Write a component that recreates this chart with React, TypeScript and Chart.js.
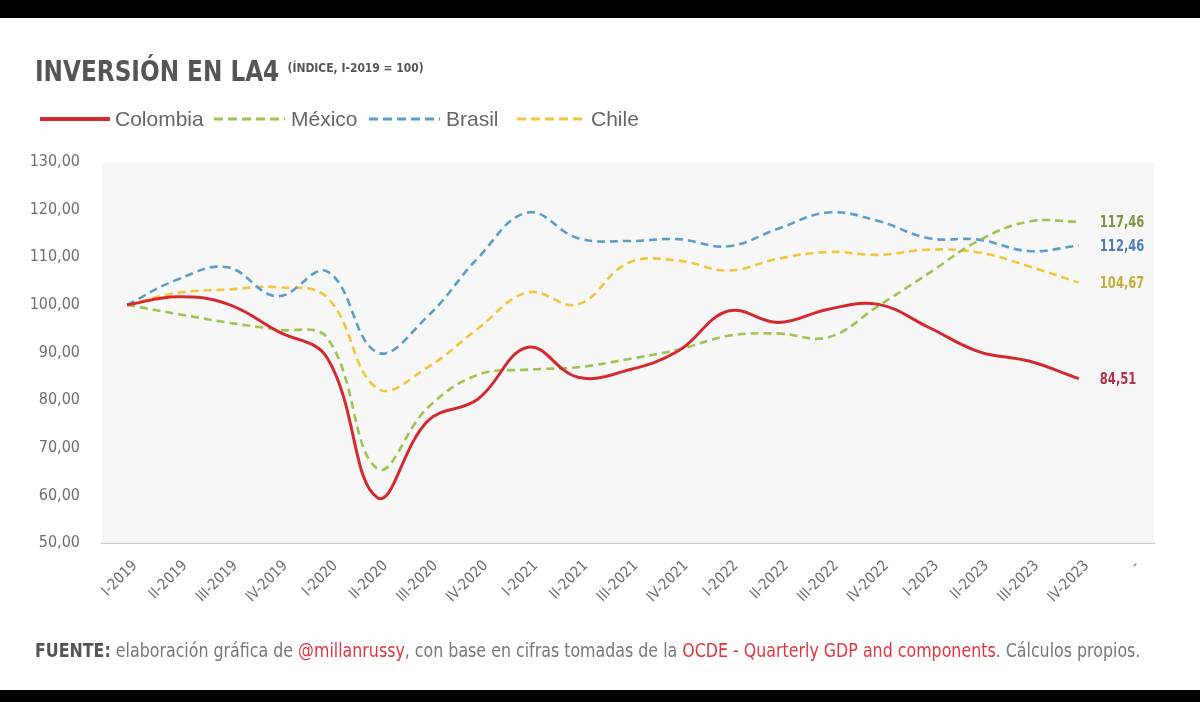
import React, { useEffect, useRef } from "react";
import { Chart, registerables } from "chart.js";

Chart.register(...registerables);

const NARROW = "'Liberation Sans Narrow', 'DejaVu Sans Condensed', 'Arial Narrow', sans-serif";
const SANS = "'Liberation Sans', Roboto, Arial, sans-serif";

const categories = [
  "I-2019", "II-2019", "III-2019", "IV-2019",
  "I-2020", "II-2020", "III-2020", "IV-2020",
  "I-2021", "II-2021", "III-2021", "IV-2021",
  "I-2022", "II-2022", "III-2022", "IV-2022",
  "I-2023", "II-2023", "III-2023", "IV-2023",
  "-",
];

const colombia = [100, 101.7, 100.2, 94.5, 88.8, 59.5, 75.6, 80.2, 91.1, 84.8, 86.3, 90.3, 98.7, 96.3, 99.1, 100.1, 95.3, 90.2, 88.2, 84.51];
const mexico = [100, 98.1, 96.3, 94.8, 93.0, 65.6, 78.4, 85.3, 86.4, 86.9, 88.6, 90.6, 93.5, 94.0, 93.2, 99.8, 106.6, 113.5, 117.5, 117.46];
const brasil = [100, 105.3, 107.9, 101.8, 107.0, 90.0, 97.6, 109.8, 119.4, 114.0, 113.4, 113.8, 112.3, 116.0, 119.4, 117.6, 114.0, 113.7, 111.3, 112.46];
const chile = [100, 102.5, 103.2, 103.7, 101.5, 82.4, 86.9, 95.0, 102.6, 100.1, 108.8, 109.3, 107.2, 109.7, 111.1, 110.5, 111.6, 111.0, 108.1, 104.67];

const seriesNames = ["Colombia", "México", "Brasil", "Chile"];
const lineColors = ["#d42a2f", "#9cc44e", "#5b9dc9", "#f4c43a"];
const endLabelColors = ["#b3324a", "#7e9545", "#4d7eaf", "#c6ac3c"];

const yMin = 50;
const yMax = 130;
const yStep = 10;

const fmt = (v: number) => v.toFixed(2).replace(".", ",");

export default function App() {
  const ref = useRef<HTMLCanvasElement>(null);

  useEffect(() => {
    if (!ref.current) return;
    const plotBg = {
      id: "plotBg",
      beforeDatasetsDraw(chart: any) {
        const { ctx, chartArea } = chart;
        ctx.save();
        ctx.fillStyle = "#f7f7f7";
        ctx.fillRect(chartArea.left, chartArea.top, chartArea.right - chartArea.left, chartArea.bottom - chartArea.top);
        ctx.restore();
      },
    };
    const endLabels = {
      id: "endLabels",
      afterDatasetsDraw(chart: any) {
        const { ctx } = chart;
        chart.data.datasets.forEach((ds: any, i: number) => {
          const meta = chart.getDatasetMeta(i);
          const last = ds.data.length - 1;
          const pt = meta.data[last];
          if (!pt) return;
          ctx.save();
          ctx.font = `bold 16px ${NARROW}`;
          ctx.textBaseline = "middle";
          ctx.textAlign = "left";
          ctx.fillStyle = endLabelColors[i];
          ctx.translate(pt.x + 21, pt.y + 1);
          ctx.scale(0.8, 1);
          ctx.fillText(fmt(ds.data[last]), 0, 0);
          ctx.restore();
        });
      },
    };
    const all = [colombia, mexico, brasil, chile];
    const chart = new Chart(ref.current, {
      type: "line",
      data: {
        labels: categories,
        datasets: all.map((d, i) => ({
          label: seriesNames[i],
          data: d,
          borderColor: lineColors[i],
          backgroundColor: lineColors[i],
          borderWidth: i === 0 ? 3 : 2.6,
          borderDash: i === 0 ? [] : [8, 5],
          pointRadius: 0,
          tension: 0.4,
          fill: false,
        })),
      },
      options: {
        responsive: false,
        animation: false,
        layout: { padding: { top: 162, right: 46, left: 0, bottom: 0 } },
        plugins: {
          legend: { display: false },
          title: { display: false },
          tooltip: { enabled: false },
        },
        scales: {
          x: {
            offset: true,
            grid: { display: false, drawTicks: false },
            border: { display: true, color: "#c9c9c9", width: 2 },
            ticks: {
              autoSkip: false,
              maxRotation: 45,
              minRotation: 45,
              padding: 14,
              labelOffset: 8,
              color: "#6e6e6e",
              font: { family: NARROW, size: 15 },
            },
            afterFit: (s: any) => {
              s.height = 159;
            },
          },
          y: {
            min: yMin,
            max: yMax,
            grid: { display: false, drawTicks: false },
            border: { display: false },
            ticks: {
              stepSize: yStep,
              padding: 22,
              color: "#6e6e6e",
              font: { family: NARROW, size: 16 },
              callback: (v: any) => fmt(Number(v)),
            },
            afterFit: (s: any) => {
              s.width = 102;
            },
          },
        },
      },
      plugins: [plotBg, endLabels],
    });
    return () => chart.destroy();
  }, []);

  const legendItems = [
    { left: 40, width: 70, text: "Colombia", textLeft: 115, dash: false },
    { left: 214, width: 71, text: "México", textLeft: 291, dash: true },
    { left: 369, width: 71, text: "Brasil", textLeft: 446, dash: true },
    { left: 517, width: 69, text: "Chile", textLeft: 591, dash: true },
  ];

  return (
    <div style={{ position: "absolute", left: 0, top: 0, width: 1200, height: 702, background: "#ffffff", overflow: "hidden" }}>
      <canvas ref={ref} width={1200} height={702} style={{ position: "absolute", left: 0, top: 0, width: 1200, height: 702 }} />
      <div style={{ position: "absolute", left: 0, top: 0, width: 1200, height: 18, background: "#000" }} />
      <div style={{ position: "absolute", left: 0, top: 690, width: 1200, height: 12, background: "#000" }} />
      <div style={{ position: "absolute", left: 35, top: 58, whiteSpace: "nowrap", color: "#555555", fontFamily: NARROW, fontWeight: "bold", lineHeight: 1, transform: "scaleX(0.92)", transformOrigin: "left top" }}>
        <span style={{ fontSize: 28 }}>INVERSIÓN EN LA4</span>
        <span style={{ fontSize: 13, verticalAlign: "top", marginLeft: 9, position: "relative", top: 3 }}>(ÍNDICE, I-2019 = 100)</span>
      </div>
      {legendItems.map((it, i) => (
        <React.Fragment key={i}>
          <svg style={{ position: "absolute", left: it.left, top: 114 }} width={it.width} height={10}>
            <line x1={0} y1={5} x2={it.width} y2={5} stroke={lineColors[i]} strokeWidth={i === 0 ? 4 : 3} strokeDasharray={it.dash ? "9 5" : undefined} />
          </svg>
          <div style={{ position: "absolute", left: it.textLeft, top: 106, fontFamily: SANS, fontSize: 21, color: "#666666", whiteSpace: "nowrap", lineHeight: "26px" }}>{it.text}</div>
        </React.Fragment>
      ))}
      <div style={{ position: "absolute", left: 35, top: 639, whiteSpace: "nowrap", fontFamily: NARROW, fontSize: 19, color: "#777777", lineHeight: "22px", transform: "scaleX(0.927)", transformOrigin: "left top" }}>
        <b style={{ color: "#555555" }}>FUENTE:</b> elaboración gráfica de <span style={{ color: "#e0353f" }}>@millanrussy</span>, con base en cifras tomadas de la <span style={{ color: "#e0353f" }}>OCDE - Quarterly GDP and components</span>. Cálculos propios.
      </div>
    </div>
  );
}
